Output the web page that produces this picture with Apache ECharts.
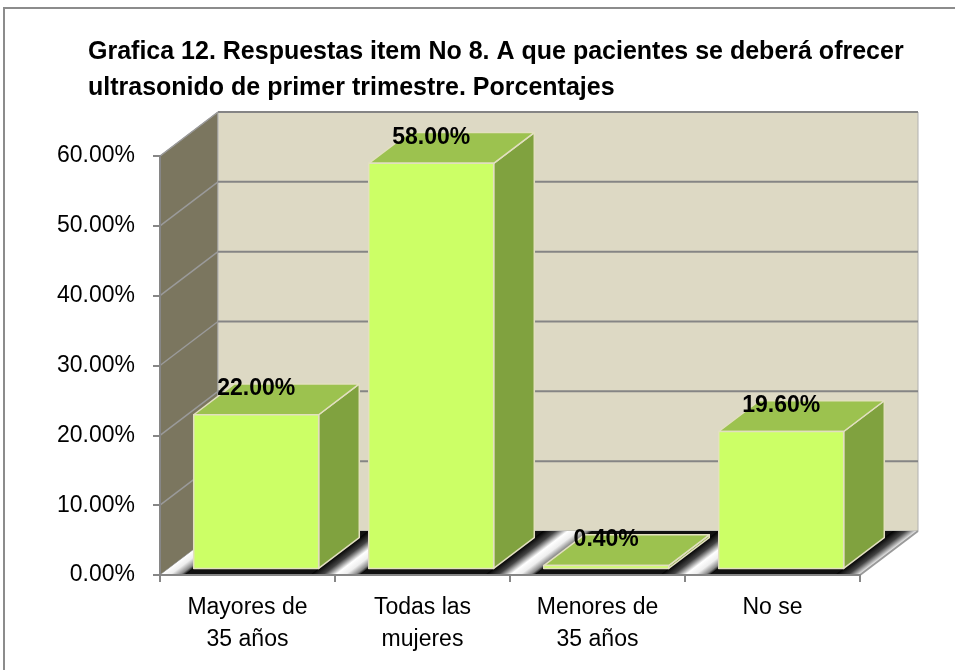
<!DOCTYPE html>
<html lang="es">
<head>
<meta charset="UTF-8">
<title>Grafica 12</title>
<script src="https://cdn.jsdelivr.net/npm/echarts@6/dist/echarts.min.js"></script>
<style>
  html, body { margin: 0; padding: 0; background: #fff; }
  #chart { width: 955px; height: 670px; }
</style>
</head>
<body>
<div id="chart"></div>
<script>
// data
const categories = ['Mayores de\n35 años', 'Todas las\nmujeres', 'Menores de\n35 años', 'No se'];
const percentages = [22.0, 58.0, 0.4, 19.6];
const yTicks = [0, 10, 20, 30, 40, 50, 60];

const FONT = '"Liberation Sans", Arial, sans-serif';
const DEPTH = [58, -44];     // pixel offset of the back wall
const Z0 = 0.15, Z1 = 0.85;  // bar depth range

const chart = echarts.init(document.getElementById('chart'));

// side wall, back wall, grid lines and floor
function renderWalls(params, api) {
    const cs = params.coordSys;
    const left = cs.x, right = cs.x + cs.width;
    const y0 = api.coord([0, 0])[1];
    const yTop = api.coord([0, yTicks[yTicks.length - 1]])[1];
    const dx = DEPTH[0], dy = DEPTH[1];
    const kids = [];

    kids.push({ type: 'polygon', shape: { points: [[left, y0], [left + dx, y0 + dy], [left + dx, yTop + dy], [left, yTop]] },
        style: { fill: '#7b765f', stroke: '#9a9a9a', lineWidth: 1 } });
    kids.push({ type: 'polygon', shape: { points: [[left + dx, yTop + dy], [right + dx, yTop + dy], [right + dx, y0 + dy], [left + dx, y0 + dy]] },
        style: { fill: '#ddd9c4', stroke: '#b0b0b0', lineWidth: 1 } });

    yTicks.forEach(v => {
        if (v === 0) return;
        const y = api.coord([0, v])[1];
        kids.push({ type: 'line', shape: { x1: left + dx, y1: y + dy, x2: right + dx, y2: y + dy },
            style: { stroke: '#858585', lineWidth: 2 } });
        kids.push({ type: 'line', shape: { x1: left, y1: y, x2: left + dx, y2: y + dy },
            style: { stroke: '#9a9a9a', lineWidth: 1.5 } });
    });

    // floor
    kids.push({ type: 'polygon', shape: { points: [[left, y0], [right, y0], [right + dx, y0 + dy], [left + dx, y0 + dy]] },
        style: { fill: '#111' } });
    const band = cs.width / categories.length;
    const hw = 25;
    const n = Math.sqrt(dx * dx + dy * dy);
    const px = hw * 2 * (-dy) / n * (-dy) / n, py = hw * 2 * (-dy) / n * dx / n;
    for (let k = 0; k <= categories.length; k++) {
        const bx = left + k * band;
        const a = Math.max(left, bx - hw), b = Math.min(right, bx + hw);
        kids.push({ type: 'polygon', shape: { points: [[a, y0], [b, y0], [b + dx, y0 + dy], [a + dx, y0 + dy]] },
            style: { fill: new echarts.graphic.LinearGradient(bx - hw, y0, bx - hw + px, y0 + py, [
                { offset: 0, color: '#000' }, { offset: 0.25, color: '#444' },
                { offset: 0.5, color: '#fff' }, { offset: 0.7, color: '#eee' }, { offset: 0.9, color: '#888' },
                { offset: 1, color: '#000' }
            ], true) } });
    }
    kids.push({ type: 'line', shape: { x1: right, y1: y0, x2: right + dx, y2: y0 + dy },
        style: { stroke: '#9a9a9a', lineWidth: 2 } });
    return { type: 'group', children: kids };
}

function renderBar(params, api) {
    const idx = api.value(0), val = api.value(1);
    const c = api.coord([idx, val]);
    const base = api.coord([idx, 0]);
    const hw = api.size([1, 0])[0] * 0.357;
    const sx = DEPTH[0] * Z0, sy = DEPTH[1] * Z0;
    const dx = DEPTH[0] * (Z1 - Z0), dy = DEPTH[1] * (Z1 - Z0);
    const x0 = c[0] - hw + sx, x1 = c[0] + hw + sx;
    const yt = c[1] + sy, yb = base[1] + sy;
    const edge = { stroke: '#e2dfc0', lineWidth: 1.5, lineJoin: 'round' };
    return {
        type: 'group',
        children: [
            { type: 'polygon', shape: { points: [[x1, yt], [x1 + dx, yt + dy], [x1 + dx, yb + dy], [x1, yb]] },
              style: Object.assign({ fill: '#80a23f' }, edge) },
            { type: 'polygon', shape: { points: [[x0, yt], [x1, yt], [x1 + dx, yt + dy], [x0 + dx, yt + dy]] },
              style: Object.assign({ fill: '#9cc24f' }, edge) },
            { type: 'rect', shape: { x: x0, y: yt, width: x1 - x0, height: Math.max(yb - yt, 0.5) },
              style: Object.assign({ fill: '#ccff66' }, edge) },
            { type: 'text', x: (x0 + x1) / 2, y: yt - 26,
              style: { text: val.toFixed(2) + '%', fill: '#000', font: 'bold 23px ' + FONT, align: 'center', verticalAlign: 'middle' } }
        ]
    };
}

chart.setOption({
    animation: false,
    title: {
        text: 'Grafica 12. Respuestas item No 8. A que pacientes se deberá ofrecer\nultrasonido de primer trimestre. Porcentajes',
        left: 88, top: 34, padding: 0,
        textStyle: { fontFamily: FONT, fontSize: 25, fontWeight: 'bold', color: '#000', lineHeight: 36 }
    },
    graphic: [
        { type: 'polyline', shape: { points: [[4, 670], [4, 8], [955, 8]] }, style: { stroke: '#8c8c8c', lineWidth: 2, fill: null } }
    ],
    grid: { left: 160, right: 95, top: 156, bottom: 95 },
    xAxis: {
        type: 'category',
        data: categories,
        axisLine: { lineStyle: { color: '#868686', width: 2 } },
        axisTick: { show: true, length: 7, lineStyle: { color: '#868686', width: 2 } },
        axisLabel: { color: '#000', fontFamily: FONT, fontSize: 23, lineHeight: 32, margin: 17 },
        z: 10
    },
    yAxis: {
        type: 'value',
        min: 0, max: 60, interval: 10,
        axisLine: { show: true, lineStyle: { color: '#868686', width: 2 } },
        axisTick: { show: true, length: 7, lineStyle: { color: '#868686', width: 2 } },
        splitLine: { show: false },
        axisLabel: { color: '#000', fontFamily: FONT, fontSize: 23, margin: 25, formatter: v => v.toFixed(2) + '%' },
        z: 10
    },
    series: [
        { type: 'custom', name: 'walls', data: [[0, 0]], renderItem: renderWalls, silent: true, z: 1 },
        { type: 'custom', name: 'Porcentaje', data: percentages.map((v, i) => [i, v]), renderItem: renderBar, z: 2,
          encode: { x: 0, y: 1 } }
    ]
});
</script>
</body>
</html>
